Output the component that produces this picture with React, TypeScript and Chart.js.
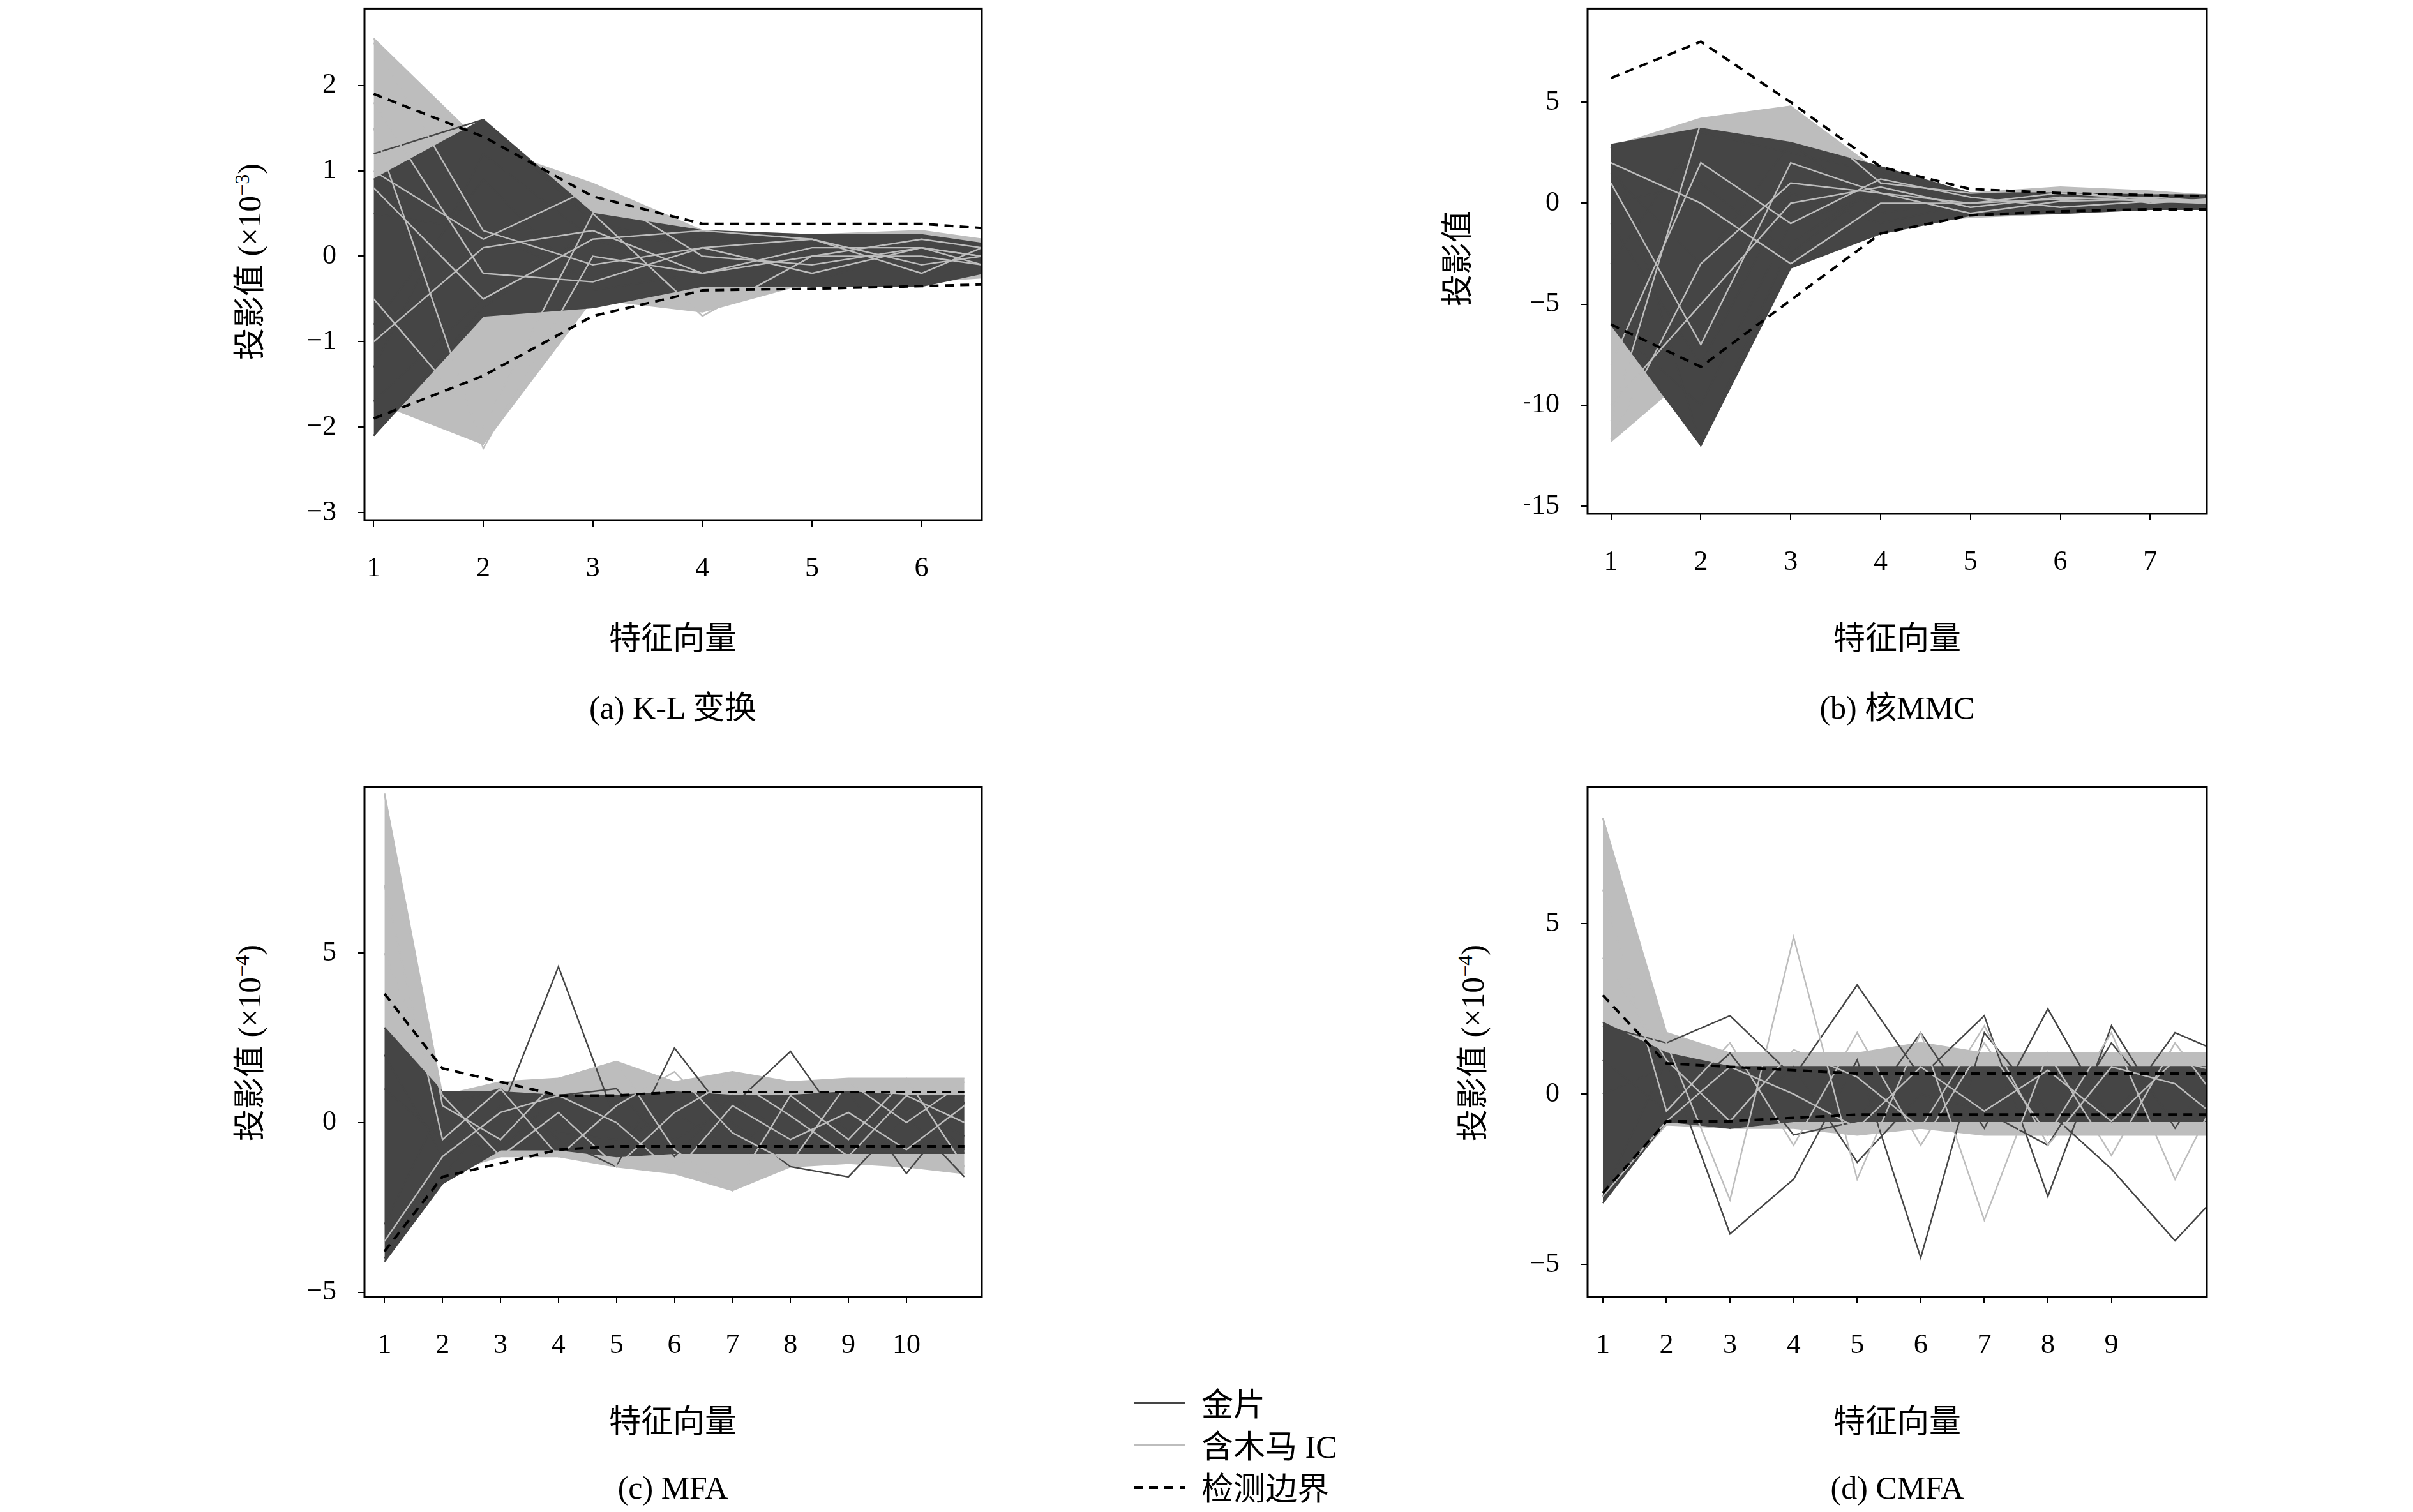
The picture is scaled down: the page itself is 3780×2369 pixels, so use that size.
import React, { useEffect, useRef } from "react";
import { Chart, registerables } from "chart.js";
Chart.register(...registerables);

const DARK = "#454545";
const GRAY = "#bdbdbd";
const FONT = "'Liberation Serif','Noto Sans CJK SC',serif";

// ---------- (a) K-L ----------
const aX = [1, 2, 3, 4, 5, 6, 6.55];
const aGrayUp = [2.55, 1.3, 0.85, 0.3, 0.25, 0.3, 0.2];
const aGrayLo = [-1.7, -2.2, -0.5, -0.65, -0.3, -0.3, -0.25];
const aDarkUp = [0.9, 1.6, 0.5, 0.3, 0.25, 0.25, 0.15];
const aDarkLo = [-2.1, -0.7, -0.6, -0.35, -0.35, -0.35, -0.2];
const aBoundUp = [1.9, 1.4, 0.7, 0.38, 0.38, 0.38, 0.33];
const aBoundLo = [-1.9, -1.4, -0.7, -0.4, -0.38, -0.35, -0.33];
const aDarkLines = [
  [-2.1, -0.6, 0.3, 0.2, 0.1, 0.0, 0.05],
  [1.2, 1.6, 0.4, 0.1, 0.2, -0.1, 0.0],
  [-1.3, 1.2, 0.2, -0.2, 0.1, 0.2, 0.1],
  [0.5, 0.3, -0.3, 0.2, -0.2, 0.1, -0.1],
  [-0.8, 0.9, -0.4, -0.2, 0.2, -0.1, 0.05],
  [-1.7, -0.5, 0.3, 0.1, -0.3, 0.1, -0.05],
];
const aGrayLines = [
  [2.5, 0.3, -0.1, 0.1, 0.2, -0.1, 0.0],
  [1.5, -2.25, 0.0, -0.2, 0.1, 0.1, 0.0],
  [-0.5, -2.0, 0.5, -0.7, 0.0, 0.2, 0.1],
  [1.0, 0.2, 0.8, 0.0, -0.1, 0.1, -0.1],
  [0.8, -0.5, 0.2, 0.3, 0.2, -0.2, 0.1],
  [-1.0, 0.1, 0.3, -0.2, 0.0, 0.0, -0.1],
  [1.8, -0.2, -0.3, 0.1, -0.2, 0.1, 0.0],
];
const aXTicks = [1, 2, 3, 4, 5, 6];
const aYTicks = [-3, -2, -1, 0, 1, 2];

// ---------- (b) 核MMC ----------
const bX = [1, 2, 3, 4, 5, 6, 7, 7.63];
const bGrayUp = [2.8, 4.2, 4.8, 1.5, 0.5, 0.8, 0.6, 0.4];
const bGrayLo = [-11.8, -8, -3, -1, -0.7, -0.5, -0.3, -0.3];
const bDarkUp = [2.9, 3.7, 3, 1.8, 0.5, 0.5, 0.4, 0.4];
const bDarkLo = [-6, -12, -3.2, -1.5, -0.6, -0.5, -0.3, -0.3];
const bBoundUp = [6.2, 8, 5, 1.8, 0.7, 0.5, 0.4, 0.35];
const bBoundLo = [-6, -8.1, -4.8, -1.5, -0.6, -0.4, -0.3, -0.3];
const bDarkLines = [
  [2.8, -12, -2, 1, 0, 0.3, 0.2, 0.2],
  [-3, 3.5, 2.5, 1.5, 0.2, -0.2, 0, 0.1],
  [-6, -10, -1, 0.5, -0.3, 0.2, 0.1, 0],
  [1.5, -3, 3, -0.5, 0.2, 0, 0.3, 0.2],
  [0, 1, -2.5, 1, 0.1, 0.3, -0.1, 0],
  [-1, -8, 0.5, -1, 0, -0.3, 0.1, 0.1],
];
const bGrayLines = [
  [-11.7, -3, 1, 0.5, 0, 0.2, 0.3, 0.1],
  [-10.8, 4, 4.8, 1, 0.5, 0.7, 0, 0.2],
  [1, -7, 2, 0.5, -0.5, 0.1, 0.2, 0],
  [-8, 2, -1, 1.2, 0.3, -0.2, 0.1, 0],
  [2, 0, -3, 0, 0, 0.5, 0.2, 0.1],
  [-10, -5, 0, 0.8, -0.2, 0.3, 0.1, 0.1],
];
const bXTicks = [1, 2, 3, 4, 5, 6, 7];
const bYTicks = [-15, -10, -5, 0, 5];

// ---------- (c) MFA ----------
const cX = [1, 2, 3, 4, 5, 6, 7, 8, 9, 10, 11];
const cGrayUp = [9.7, 0.8, 1.2, 1.3, 1.8, 1.2, 1.5, 1.2, 1.3, 1.3, 1.3];
const cGrayLo = [-3.5, -1.5, -1.0, -1.0, -1.3, -1.5, -2, -1.3, -1.2, -1.3, -1.5];
const cDarkUp = [2.8, 0.9, 0.9, 0.8, 0.8, 0.9, 0.8, 0.8, 0.9, 0.8, 0.8];
const cDarkLo = [-4.1, -1.8, -0.8, -0.8, -1.0, -0.9, -0.9, -0.9, -0.9, -0.9, -0.9];
const cBoundUp = [3.8, 1.6, 1.2, 0.8, 0.8, 0.9, 0.9, 0.9, 0.9, 0.9, 0.9];
const cBoundLo = [-3.8, -1.6, -1.2, -0.8, -0.7, -0.7, -0.7, -0.7, -0.7, -0.7, -0.7];
const cDarkLines = [
  [2, -1, 0.3, 4.6, 0, -0.5, 0.5, 2.1, -0.3, 0.5, -0.4],
  [-3, 0.5, 1, -0.5, -1.3, 2.2, 0, -1.3, -1.6, 0.2, -1.6],
  [1, -0.5, -0.8, 0.8, 1, -1, 0.8, -0.5, 0.9, -1.5, 0.6],
  [-4, -1.6, 0.5, -0.3, -0.5, 0.3, -0.8, 0.5, -0.2, 0.8, -0.8],
];
const cGrayLines = [
  [9.7, 0.5, -0.5, 1.3, 1.8, -0.8, -2, 0.8, -0.5, 1.3, -1.3],
  [7, -0.5, 1, -1, 0.5, 1.5, -0.3, -1.2, 1.2, 0, 1.2],
  [5, 0.8, -1, 0.3, -1.3, 0.3, 1.3, 0.2, -1, 0.8, 0],
  [-3.5, -1, 0.3, 0.8, 0, -1.5, 0.5, -0.5, 0.3, -0.8, 0.5],
];
const cXTicks = [1, 2, 3, 4, 5, 6, 7, 8, 9, 10];
const cYTicks = [-5, 0, 5];

// ---------- (d) CMFA ----------
const dX = [1, 2, 3, 4, 5, 6, 7, 8, 9, 10, 11];
const dGrayUp = [8.1, 1.8, 1.2, 1.2, 1.2, 1.5, 1.2, 1.2, 1.2, 1.2, 1.2];
const dGrayLo = [-3, -0.9, -1, -1, -1.2, -1, -1.2, -1.2, -1.2, -1.2, -1.2];
const dDarkUp = [2.1, 1.2, 0.8, 0.8, 0.8, 0.8, 0.8, 0.8, 0.8, 0.8, 0.8];
const dDarkLo = [-3.2, -0.8, -1, -0.8, -0.8, -0.8, -0.8, -0.8, -0.8, -0.8, -0.8];
const dBoundUp = [2.9, 0.9, 0.8, 0.7, 0.6, 0.6, 0.6, 0.6, 0.6, 0.6, 0.6];
const dBoundLo = [-2.9, -0.8, -0.8, -0.7, -0.6, -0.6, -0.6, -0.6, -0.6, -0.6, -0.6];
const dDarkLines = [
  [2, 1.5, 2.3, 0.5, 3.2, 0.5, 2.3, -3, 2, -1, 1.8],
  [-3, 1, -4.1, -2.5, 1, -4.8, 1.8, -0.5, -2.2, -4.3, -2.3],
  [1, -0.5, 1.2, -1.2, -0.8, 1.8, -1, 2.5, -0.8, 1.8, 1],
  [0, 0.8, -1, 0.8, -2, 0, -0.5, -1.5, 1.5, -0.8, -0.5],
];
const dGrayLines = [
  [8.1, 1.5, -3.1, 4.6, -2.5, 1.8, -3.7, 1.2, -1.8, 1.5, -1],
  [6, -0.5, 1.5, -1.5, 1.8, -1.5, 1.5, -1.2, 1.8, -2.5, 1.2],
  [4, 1, -0.8, 1.3, 0.5, -1, 2, -1.5, 0.8, 0.3, -1.2],
  [-3, -0.8, 0.8, 0, -1, 0.8, -0.5, 0.7, -0.8, 1, 0.5],
];
const dXTicks = [1, 2, 3, 4, 5, 6, 7, 8, 9];
const dYTicks = [-5, 0, 5];

const YW = 100, XH = 110, PAD = 6, EXTRA = 53;

const boxPlugin = {
  id: "box",
  afterDraw(chart: any) {
    const { ctx, chartArea: a } = chart;
    ctx.save();
    ctx.strokeStyle = "#000";
    ctx.lineWidth = 3;
    ctx.strokeRect(a.left, a.top, a.right - a.left, a.bottom - a.top);
    ctx.restore();
  },
};

function Panel(p: any) {
  const ref = useRef<HTMLCanvasElement>(null);
  useEffect(() => {
    const pts = (ys: number[]) => ys.map((y, i) => ({ x: p.xs[i], y }));
    const ds: any[] = [];
    const line = (ys: number[], color: string, order: number, extra: any = {}) => ({
      data: pts(ys), borderColor: color, borderWidth: 2.4, pointRadius: 0, tension: 0,
      fill: false, order, ...extra,
    });
    ds.push(line(p.grayUp, GRAY, 5));
    ds.push(line(p.grayLo, GRAY, 5, { fill: "-1", backgroundColor: GRAY }));
    ds.push(line(p.darkUp, DARK, 4));
    ds.push(line(p.darkLo, DARK, 4, { fill: "-1", backgroundColor: DARK }));
    p.grayLines.forEach((l: number[]) => ds.push(line(l, GRAY, 2)));
    p.darkLines.forEach((l: number[]) => ds.push(line(l, DARK, 3)));
    ds.push(line(p.boundUp, "#000", 0, { borderDash: [14, 10], borderWidth: 4 }));
    ds.push(line(p.boundLo, "#000", 0, { borderDash: [14, 10], borderWidth: 4 }));
    const fmt = (v: any) => (v < 0 ? "\u2212" + Math.abs(v) : String(v));
    const chart = new Chart(ref.current!, {
      type: "line",
      data: { datasets: ds },
      plugins: [boxPlugin],
      options: {
        animation: false, responsive: false, devicePixelRatio: 1,
        layout: { autoPadding: false, padding: { top: PAD, right: PAD, left: 0, bottom: 0 } },
        plugins: { legend: { display: false }, tooltip: { enabled: false } },
        scales: {
          x: {
            type: "linear", min: p.xmin, max: p.xmax,
            afterBuildTicks: (s: any) => { s.ticks = p.xTicks.map((v: number) => ({ value: v })); },
            afterFit: (s: any) => { s.height = XH; },
            grid: { drawOnChartArea: false, tickLength: 10, color: "#000", lineWidth: 2 },
            border: { display: false },
            ticks: { font: { family: FONT, size: 44 }, color: "#000", padding: 40, callback: fmt, maxRotation: 0 },
          },
          y: {
            type: "linear", min: p.ymin, max: p.ymax,
            afterBuildTicks: (s: any) => { s.ticks = p.yTicks.map((v: number) => ({ value: v })); },
            afterFit: (s: any) => { s.width = YW; },
            grid: { drawOnChartArea: false, tickLength: 10, color: "#000", lineWidth: 2 },
            border: { display: false },
            ticks: { font: { family: FONT, size: 44 }, color: "#000", padding: 34, callback: fmt },
          },
        },
      } as any,
    });
    return () => chart.destroy();
  }, []);
  const w = p.right - p.left + YW + PAD;
  const h = p.bottom - p.top + XH + PAD + EXTRA;
  return (
    <canvas ref={ref} width={w} height={h}
      style={{ position: "absolute", left: p.left - YW, top: p.top - PAD - EXTRA, width: w, height: h }} />
  );
}

const T = (x: number, y: number, s: any, rot = false) => (
  <div style={{
    position: "absolute", left: x, top: y, transform: rot ? "translate(-50%,-50%) rotate(-90deg)" : "translate(-50%,-50%)",
    whiteSpace: "nowrap", fontFamily: FONT, fontSize: 50, color: "#000",
  }}>{s}</div>
);

export default function App() {
  return (
    <div style={{ position: "relative", width: 3780, height: 2369, background: "#fff", margin: -8 }}>
      <Panel left={571} right={1538} top={12} bottom={815} xs={aX} xmin={0.916} xmax={6.55} ymin={-3.09} ymax={2.9}
        grayUp={aGrayUp} grayLo={aGrayLo} darkUp={aDarkUp} darkLo={aDarkLo} boundUp={aBoundUp} boundLo={aBoundLo}
        darkLines={aDarkLines} grayLines={aGrayLines} xTicks={aXTicks} yTicks={aYTicks} />
      <Panel left={2487} right={3457} top={12} bottom={805} xs={bX} xmin={0.74} xmax={7.63} ymin={-15.38} ymax={9.64}
        grayUp={bGrayUp} grayLo={bGrayLo} darkUp={bDarkUp} darkLo={bDarkLo} boundUp={bBoundUp} boundLo={bBoundLo}
        darkLines={bDarkLines} grayLines={bGrayLines} xTicks={bXTicks} yTicks={bYTicks} />
      <Panel left={571} right={1538} top={1232} bottom={2032} xs={cX} xmin={0.655} xmax={11.3} ymin={-5.14} ymax={9.89}
        grayUp={cGrayUp} grayLo={cGrayLo} darkUp={cDarkUp} darkLo={cDarkLo} boundUp={cBoundUp} boundLo={cBoundLo}
        darkLines={cDarkLines} grayLines={cGrayLines} xTicks={cXTicks} yTicks={cYTicks} />
      <Panel left={2487} right={3457} top={1232} bottom={2032} xs={dX} xmin={0.76} xmax={10.5} ymin={-5.95} ymax={9.0}
        grayUp={dGrayUp} grayLo={dGrayLo} darkUp={dDarkUp} darkLo={dDarkLo} boundUp={dBoundUp} boundLo={dBoundLo}
        darkLines={dDarkLines} grayLines={dGrayLines} xTicks={dXTicks} yTicks={dYTicks} />

      {T(386, 410, <span>投影值 (×10<sup style={{ fontSize: 32 }}>−3</sup>)</span>, true)}
      {T(2278, 405, "投影值", true)}
      {T(386, 1634, <span>投影值 (×10<sup style={{ fontSize: 32 }}>−4</sup>)</span>, true)}
      {T(2302, 1634, <span>投影值 (×10<sup style={{ fontSize: 32 }}>−4</sup>)</span>, true)}

      {T(1054, 995, "特征向量")}
      {T(2972, 995, "特征向量")}
      {T(1054, 2222, "特征向量")}
      {T(2972, 2222, "特征向量")}

      {T(1054, 1104, "(a) K-L 变换")}
      {T(2972, 1104, "(b) 核MMC")}
      {T(1054, 2331, "(c) MFA")}
      {T(2972, 2331, "(d) CMFA")}

      <svg style={{ position: "absolute", left: 1776, top: 2180, width: 90, height: 170 }}>
        <line x1="0" y1="18" x2="80" y2="18" stroke={DARK} strokeWidth="4" />
        <line x1="0" y1="84" x2="80" y2="84" stroke={GRAY} strokeWidth="4" />
        <line x1="0" y1="151" x2="80" y2="151" stroke="#000" strokeWidth="4" strokeDasharray="14 10" />
      </svg>
      <div style={{ position: "absolute", left: 1882, top: 2168, fontFamily: FONT, fontSize: 50, lineHeight: "66px" }}>
        <div>金片</div><div>含木马 IC</div><div>检测边界</div>
      </div>
    </div>
  );
}
